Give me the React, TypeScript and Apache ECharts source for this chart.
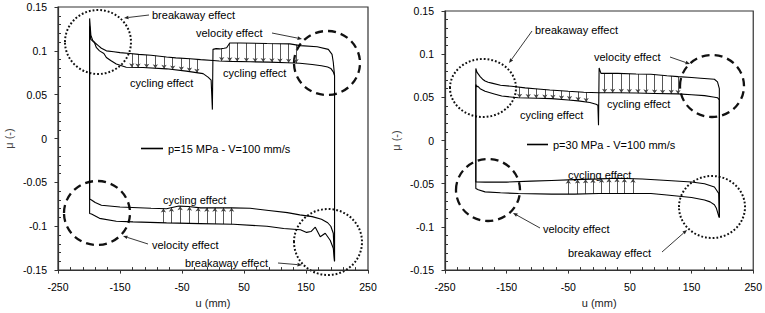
import React, { useEffect, useRef } from 'react';
import * as echarts from 'echarts';

const FONT = '"Liberation Sans", Arial, Helvetica, sans-serif';

// Tick / label text
const xTickMin = -250;
const xTickMax = 250;
const yTickMin = -0.15;
const yTickMax = 0.15;
const LEG15 = 'p=15 MPa - V=100 mm/s';
const LEG30 = 'p=30 MPa - V=100 mm/s';

// ---------- p = 15 MPa ----------
// loop A: upper branch (left -> right)
const p15UpAx = [-199, -197, -194, -190, -185, -180, -172, -160, -150, -134, -120, -100, -75, -60, -37, -20, 0, 10, 30, 60, 90, 120, 140, 160, 175, 185, 190, 194, 196];
const p15UpAy = [0.137, 0.118, 0.112, 0.109, 0.106, 0.103, 0.1, 0.099, 0.098, 0.097, 0.096, 0.095, 0.093, 0.092, 0.091, 0.09, 0.089, 0.0885, 0.088, 0.0875, 0.0872, 0.0865, 0.0858, 0.0845, 0.083, 0.0815, 0.08, 0.076, 0.072];
// loop A: lower branch (right -> left)
const p15LoAx = [196, 194, 190, 185, 175, 160, 140, 120, 90, 60, 30, 0, -20, -40, -55, -75, -100, -150, -180, -190, -196, -199];
const p15LoAy = [-0.14, -0.108, -0.1, -0.096, -0.092, -0.089, -0.087, -0.0845, -0.082, -0.0795, -0.079, -0.079, -0.079, -0.0775, -0.077, -0.08, -0.0795, -0.078, -0.076, -0.073, -0.07, -0.069];
// loop B: upper branch
const p15UpBx = [-199, -197, -194, -191, -188, -183, -176, -172, -165, -156, -140, -113, -75, -43, -16, -8, -3, -1, 0, 5, 11, 18, 22, 27, 44, 87, 124, 141, 168, 186, 192, 194, 196];
const p15UpBy = [0.128, 0.113, 0.111, 0.109, 0.1036, 0.1, 0.097, 0.0925, 0.089, 0.085, 0.0813, 0.081, 0.0795, 0.0769, 0.074, 0.07, 0.0665, 0.033, 0.1017, 0.1025, 0.1022, 0.103, 0.1036, 0.109, 0.109, 0.1084, 0.108, 0.106, 0.1047, 0.1017, 0.096, 0.087, 0.072];
// loop B: lower branch
const p15LoBx = [196, 194, 189, 181, 173, 165, 158, 151, 141, 114, 87, 33, -21, -75, -129, -156, -183, -196, -199];
const p15LoBy = [-0.14, -0.125, -0.116, -0.108, -0.112, -0.101, -0.106, -0.107, -0.104, -0.1025, -0.1, -0.0977, -0.097, -0.0962, -0.095, -0.0943, -0.091, -0.086, -0.0855];
// arrow positions (mm)
const p15CycUpX = [-131, -121, -107, -93, -79, -65, -51, -38, -26];
const p15VelUpX = [14, 27, 39, 54, 68, 81, 95, 108, 122, 134];
const p15CycLoX = [-80, -67, -53, -38, -24, -10, 3, 17, 30];

// ---------- p = 30 MPa ----------
const p30UpAx = [-200, -198, -195, -193, -189, -185, -180, -174, -160, -142, -120, -104, -80, -50, -25, 0, 30, 60, 90, 128, 150, 171, 185, 192, 195];
const p30UpAy = [0.0835, 0.079, 0.076, 0.074, 0.071, 0.069, 0.0675, 0.0665, 0.064, 0.0628, 0.061, 0.06, 0.0585, 0.057, 0.056, 0.0553, 0.0553, 0.055, 0.0545, 0.054, 0.053, 0.052, 0.0505, 0.0496, 0.047];
const p30LoAx = [195, 194, 190, 187, 171, 150, 111, 70, 30, 0, -40, -77, -110, -150, -185, -198, -200];
const p30LoAy = [-0.089, -0.0613, -0.057, -0.0538, -0.05, -0.048, -0.0462, -0.0445, -0.0436, -0.0444, -0.0452, -0.0462, -0.047, -0.0481, -0.0481, -0.048, -0.048];
const p30UpBx = [-200, -198, -197, -193, -185, -170, -158, -131, -100, -77, -50, -34, -15, -5, -2, -1, 0, 3, 30, 60, 84, 110, 128, 150, 165, 187, 192, 195];
const p30UpBy = [0.065, 0.062, 0.063, 0.06, 0.057, 0.054, 0.0515, 0.0496, 0.049, 0.0485, 0.047, 0.0459, 0.044, 0.042, 0.041, 0.0177, 0.084, 0.0778, 0.0778, 0.077, 0.0767, 0.075, 0.074, 0.073, 0.0722, 0.071, 0.068, 0.06];
const p30LoBx = [195, 194, 190, 187, 180, 171, 150, 138, 110, 84, 40, 0, -40, -77, -131, -160, -185, -196, -200];
const p30LoBy = [-0.089, -0.0876, -0.078, -0.0744, -0.071, -0.0688, -0.066, -0.065, -0.063, -0.0613, -0.0613, -0.0613, -0.062, -0.062, -0.0613, -0.0605, -0.0594, -0.057, -0.0556];
const p30CycUpX = [-129, -115, -102, -88, -75, -61, -48, -34, -21];
const p30VelUpX = [9, 22, 36, 49, 63, 76, 90, 103, 117, 128];
const p30CycLoX = [-50, -35, -22, -10, 4, 16, 29, 41, 55];

function zip(xs: number[], ys: number[]) {
  return xs.map((x, i) => [x, ys[i]]);
}

function interp(xs: number[], ys: number[], x: number): number {
  for (let i = 0; i < xs.length - 1; i++) {
    const a = xs[i];
    const b = xs[i + 1];
    if (a === b) continue;
    if ((x - a) * (x - b) <= 0) {
      return ys[i] + ((ys[i + 1] - ys[i]) * (x - a)) / (b - a);
    }
  }
  return ys[ys.length - 1];
}

function loop(ux: number[], uy: number[], lx: number[], ly: number[]) {
  const up = zip(ux, uy);
  return [...up, ...zip(lx, ly), up[0]];
}

function arrows(xs: number[], fx: number[], fy: number[], tx: number[], ty: number[]) {
  return xs.map((x) => ({ coords: [[x, interp(fx, fy, x)], [x, interp(tx, ty, x)]] }));
}

function lineSeries(name: string, idx: number, data: number[][]) {
  return {
    name,
    type: 'line',
    xAxisIndex: idx,
    yAxisIndex: idx,
    data,
    showSymbol: false,
    symbol: 'none',
    silent: true,
    z: 3,
    lineStyle: { color: '#000', width: 1.1 },
    itemStyle: { color: '#000' },
  };
}

function arrowSeries(idx: number, data: any[]) {
  return {
    type: 'lines',
    coordinateSystem: 'cartesian2d',
    xAxisIndex: idx,
    yAxisIndex: idx,
    silent: true,
    z: 2,
    symbol: ['none', 'arrow'],
    symbolSize: [3.5, 4],
    lineStyle: { color: '#444', width: 0.9, opacity: 1, curveness: 0 },
    data,
  };
}

const axisColor = '#333';

function xAxis(idx: number) {
  return {
    type: 'value',
    gridIndex: idx,
    position: 'bottom',
    min: xTickMin,
    max: xTickMax,
    interval: 100,
    axisLine: { show: true, onZero: false, lineStyle: { color: axisColor, width: 1.2 } },
    axisTick: { show: true, inside: false, length: 3.5, lineStyle: { color: axisColor } },
    minorTick: { show: false },
    splitLine: { show: false },
    axisLabel: { fontSize: 10.5, color: '#000', fontFamily: FONT, margin: 11 },
    name: 'u (mm)',
    nameLocation: 'middle',
    nameGap: 23,
    nameTextStyle: { fontSize: 11, color: '#222', fontFamily: FONT },
  };
}

function xMinor(idx: number) {
  return {
    type: 'value',
    gridIndex: idx,
    position: 'bottom',
    min: xTickMin,
    max: xTickMax,
    interval: 100,
    axisLine: { show: false, onZero: false },
    axisTick: { show: false, inside: true },
    minorTick: { show: true, splitNumber: 5, length: 3, lineStyle: { color: axisColor } },
    splitLine: { show: false },
    axisLabel: { show: false },
  };
}

function yAxis(idx: number) {
  return {
    type: 'value',
    gridIndex: idx,
    position: 'left',
    min: yTickMin,
    max: yTickMax,
    interval: 0.05,
    axisLine: { show: true, onZero: false, lineStyle: { color: axisColor, width: 1.2 } },
    axisTick: { show: true, inside: false, length: 3.5, lineStyle: { color: axisColor } },
    minorTick: { show: false },
    splitLine: { show: false },
    axisLabel: {
      fontSize: 10.5,
      color: '#000',
      fontFamily: FONT,
      margin: 11,
      formatter: (v: number) => String(Math.round(v * 100) / 100),
    },
    name: 'μ (-)',
    nameLocation: 'middle',
    nameRotate: 90,
    nameGap: 44,
    nameTextStyle: { fontSize: 11, color: '#444', fontFamily: FONT },
  };
}

function yMinor(idx: number) {
  return {
    type: 'value',
    gridIndex: idx,
    position: 'left',
    min: yTickMin,
    max: yTickMax,
    interval: 0.05,
    axisLine: { show: false, onZero: false },
    axisTick: { show: false, inside: true },
    minorTick: { show: true, splitNumber: 5, length: 3, lineStyle: { color: axisColor } },
    splitLine: { show: false },
    axisLabel: { show: false },
  };
}

function txt(x: number, y: number, text: string) {
  return {
    type: 'text',
    x,
    y,
    silent: true,
    style: { text, fill: '#000', fontSize: 11, fontFamily: FONT, align: 'left', verticalAlign: 'middle' },
  };
}

function ell(cx: number, cy: number, rx: number, ry: number, dotted: boolean) {
  return {
    type: 'ellipse',
    silent: true,
    shape: { cx, cy, rx, ry },
    style: {
      fill: 'none',
      stroke: '#111',
      lineWidth: dotted ? 2 : 2.3,
      lineDash: dotted ? [1.8, 2] : [8, 5],
    },
  };
}

function leader(x1: number, y1: number, x2: number, y2: number) {
  const dx = x2 - x1;
  const dy = y2 - y1;
  const len = Math.sqrt(dx * dx + dy * dy);
  const ux = dx / len;
  const uy = dy / len;
  const hl = 4.5;
  const hw = 1.8;
  const bx = x2 - ux * hl;
  const by = y2 - uy * hl;
  return [
    { type: 'line', silent: true, shape: { x1, y1, x2: bx, y2: by }, style: { stroke: '#222', lineWidth: 0.9 } },
    {
      type: 'polygon',
      silent: true,
      shape: { points: [[x2, y2], [bx - uy * hw, by + ux * hw], [bx + uy * hw, by - ux * hw]] },
      style: { fill: '#222' },
    },
  ];
}

export default function App() {
  const ref = useRef<HTMLDivElement>(null);
  useEffect(() => {
    if (!ref.current) return;
    const chart = echarts.init(ref.current, null, { renderer: 'svg' });
    const option: any = {
      animation: false,
      backgroundColor: '#fff',
      textStyle: { fontFamily: FONT },
      grid: [
        { left: 58, top: 7, width: 310, height: 269, show: true, borderColor: axisColor, borderWidth: 1.2, containLabel: false },
        { left: 445, top: 11, width: 309, height: 266, show: true, borderColor: axisColor, borderWidth: 1.2, containLabel: false },
      ],
      xAxis: [xAxis(0), xAxis(1), xMinor(0), xMinor(1)],
      yAxis: [yAxis(0), yAxis(1), yMinor(0), yMinor(1)],
      legend: [
        {
          data: [LEG15], left: 141, top: 143, icon: 'rect', itemWidth: 22, itemHeight: 1.6, padding: 0,
          selectedMode: false, textStyle: { fontSize: 11, color: '#000', fontFamily: FONT },
        },
        {
          data: [LEG30], left: 527, top: 139, icon: 'rect', itemWidth: 21, itemHeight: 1.6, padding: 0,
          selectedMode: false, textStyle: { fontSize: 11, color: '#000', fontFamily: FONT },
        },
      ],
      series: [
        lineSeries(LEG15, 0, loop(p15UpAx, p15UpAy, p15LoAx, p15LoAy)),
        lineSeries(LEG15, 0, loop(p15UpBx, p15UpBy, p15LoBx, p15LoBy)),
        arrowSeries(0, arrows(p15CycUpX, p15UpAx, p15UpAy, p15UpBx, p15UpBy)),
        arrowSeries(0, arrows(p15VelUpX, p15UpBx, p15UpBy, p15UpAx, p15UpAy)),
        arrowSeries(0, arrows(p15CycLoX, p15LoBx, p15LoBy, p15LoAx, p15LoAy)),
        lineSeries(LEG30, 1, loop(p30UpAx, p30UpAy, p30LoAx, p30LoAy)),
        lineSeries(LEG30, 1, loop(p30UpBx, p30UpBy, p30LoBx, p30LoBy)),
        arrowSeries(1, arrows(p30CycUpX, p30UpAx, p30UpAy, p30UpBx, p30UpBy)),
        arrowSeries(1, arrows(p30VelUpX, p30UpBx, p30UpBy, p30UpAx, p30UpAy)),
        arrowSeries(1, arrows(p30CycLoX, p30LoBx, p30LoBy, p30LoAx, p30LoAy)),
      ],
      graphic: [
        // left panel
        ell(98, 42, 33, 32, true),
        ell(327, 63, 33, 32, false),
        ell(97, 213, 33, 32, false),
        ell(328, 242, 34, 33, true),
        txt(152, 15, 'breakaway effect'),
        txt(196, 33, 'velocity effect'),
        txt(130, 83, 'cycling effect'),
        txt(223, 73, 'cycling effect'),
        txt(163, 200, 'cycling effect'),
        txt(152, 245, 'velocity effect'),
        txt(185, 263, 'breakaway effect'),
        ...leader(149, 15, 124, 18),
        ...leader(272, 33, 302, 39),
        ...leader(148, 244, 123, 236),
        ...leader(278, 263, 302, 265),
        // right panel
        ell(483, 88, 33, 29, true),
        ell(712, 86, 32, 31, false),
        ell(488, 190, 32, 31, false),
        ell(712, 207, 33, 31, true),
        txt(535, 30, 'breakaway effect'),
        txt(594, 57, 'velocity effect'),
        txt(520, 115, 'cycling effect'),
        txt(607, 104, 'cycling effect'),
        txt(568, 175, 'cycling effect'),
        txt(543, 229, 'velocity effect'),
        txt(568, 253, 'breakaway effect'),
        ...leader(532, 31, 509, 63),
        ...leader(670, 57, 690, 64),
        ...leader(540, 228, 513, 213),
        ...leader(662, 252, 687, 230),
      ],
    };
    chart.setOption(option);
    return () => chart.dispose();
  }, []);
  return <div ref={ref} style={{ position: 'fixed', left: 0, top: 0, width: 765, height: 313, background: '#fff' }} />;
}
